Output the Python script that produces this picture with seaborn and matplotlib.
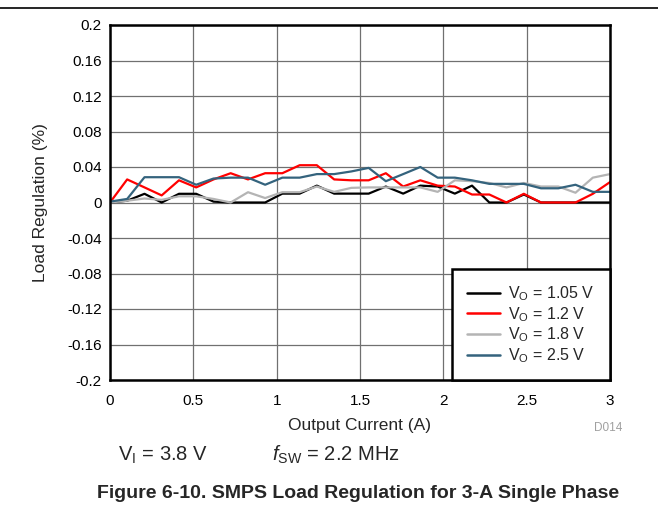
import matplotlib
matplotlib.use("Agg")
import matplotlib.pyplot as plt
import seaborn as sns
import pandas as pd
from matplotlib.lines import Line2D

# output current (A)
current = [0, 0.103, 0.207, 0.31, 0.414, 0.517, 0.621, 0.724, 0.828, 0.931,
           1.034, 1.138, 1.241, 1.345, 1.448, 1.552, 1.655, 1.759, 1.862, 1.966,
           2.069, 2.172, 2.276, 2.379, 2.483, 2.586, 2.69, 2.793, 2.897, 3.0]

# load regulation (%)
vo_105 = [0, 0.002, 0.0098, 0, 0.0098, 0.0098, 0.001, 0, 0, 0,
          0.010, 0.010, 0.019, 0.010, 0.010, 0.010, 0.018, 0.010, 0.019, 0.018,
          0.010, 0.019, 0, 0, 0.009, 0, 0, 0, 0, 0]
vo_12 = [0, 0.026, 0.017, 0.008, 0.025, 0.017, 0.026, 0.033, 0.026, 0.033,
         0.033, 0.042, 0.042, 0.026, 0.025, 0.025, 0.033, 0.018, 0.025, 0.019,
         0.018, 0.009, 0.009, 0, 0.0098, 0, 0, 0, 0.0098, 0.023]
vo_18 = [0, 0.002, 0.0045, 0.003, 0.007, 0.007, 0.004, 0, 0.0116, 0.005,
         0.0116, 0.0116, 0.018, 0.012, 0.0165, 0.017, 0.017, 0.017, 0.017, 0.012,
         0.025, 0.024, 0.022, 0.017, 0.022, 0.018, 0.018, 0.011, 0.028, 0.032]
vo_25 = [0.001, 0.004, 0.0285, 0.0285, 0.0285, 0.020, 0.027, 0.028, 0.028, 0.020,
         0.028, 0.028, 0.032, 0.032, 0.035, 0.039, 0.024, 0.032, 0.040, 0.028,
         0.028, 0.025, 0.021, 0.021, 0.021, 0.016, 0.016, 0.020, 0.012, 0.012]

labels = [r'V$_\mathregular{O}$ = 1.05 V', r'V$_\mathregular{O}$ = 1.2 V',
          r'V$_\mathregular{O}$ = 1.8 V', r'V$_\mathregular{O}$ = 2.5 V']
colors = ['#000000', '#ff0000', '#b4b4b4', '#34637d']

df = pd.DataFrame({'Current': current * 4,
                   'Reg': vo_105 + vo_12 + vo_18 + vo_25,
                   'Series': sum([[l] * len(current) for l in labels], [])})

sns.set_style('white')
plt.rcParams['font.family'] = ['Liberation Sans', 'DejaVu Sans']
plt.rcParams['mathtext.fontset'] = 'custom'
plt.rcParams['mathtext.rm'] = 'Liberation Sans'
plt.rcParams['mathtext.it'] = 'Liberation Sans:italic'

fig = plt.figure(figsize=(6.58, 5.20), dpi=100)
ax = fig.add_axes([110 / 658, 1 - 380 / 520, 500 / 658, 355 / 520])

sns.lineplot(data=df, x='Current', y='Reg', hue='Series', palette=colors,
             hue_order=labels, linewidth=1.6, ax=ax, legend=False)

ax.set_xlim(0, 3)
ax.set_ylim(-0.2, 0.2)
ax.set_xticks([0, 0.5, 1, 1.5, 2, 2.5, 3])
ax.set_xticklabels(['0', '0.5', '1', '1.5', '2', '2.5', '3'])
yt = [-0.2, -0.16, -0.12, -0.08, -0.04, 0, 0.04, 0.08, 0.12, 0.16, 0.2]
ax.set_yticks(yt)
ax.set_yticklabels(['-0.2', '-0.16', '-0.12', '-0.08', '-0.04', '0',
                    '0.04', '0.08', '0.12', '0.16', '0.2'])
ax.tick_params(axis='both', length=0, labelsize=11, pad=6, colors='black')
ax.tick_params(axis='x', pad=10)
ax.grid(True, color='#707070', linewidth=0.9)
for s in ax.spines.values():
    s.set_color('black')
    s.set_linewidth(1.8)
ax.set_xlabel('Output Current (A)', fontsize=12.5, labelpad=7)
ax.set_ylabel('Load Regulation (%)', fontsize=12.5, labelpad=14)

handles = [Line2D([], [], color=c, linewidth=1.8) for c in colors]
leg = ax.legend(handles, labels, loc='lower right', fontsize=11.5, frameon=True,
                fancybox=False, borderpad=0.95, handlelength=2.1, handletextpad=0.5,
                labelspacing=0.12, borderaxespad=0, framealpha=1)
leg.get_frame().set_edgecolor('black')
leg.get_frame().set_linewidth(1.8)

fig.add_artist(Line2D([0, 1], [1 - 7.5 / 520, 1 - 7.5 / 520], color='black', linewidth=1.2))
fig.text(622 / 658, 1 - 428 / 520, 'D014', fontsize=8.5, color='#a0a0a0', ha='right', va='center')
fig.text(118 / 658, 1 - 455 / 520, r'V$_\mathregular{I}$ = 3.8 V', fontsize=14.5, va='center')
fig.text(272 / 658, 1 - 455 / 520, r'$\mathit{f}$$_\mathregular{SW}$ = 2.2 MHz', fontsize=14.5, va='center')
fig.text(358 / 658, 1 - 493 / 520, 'Figure 6-10. SMPS Load Regulation for 3-A Single Phase',
         fontsize=14, fontweight='bold', ha='center', va='center')

fig.savefig('out.png', dpi=100)
